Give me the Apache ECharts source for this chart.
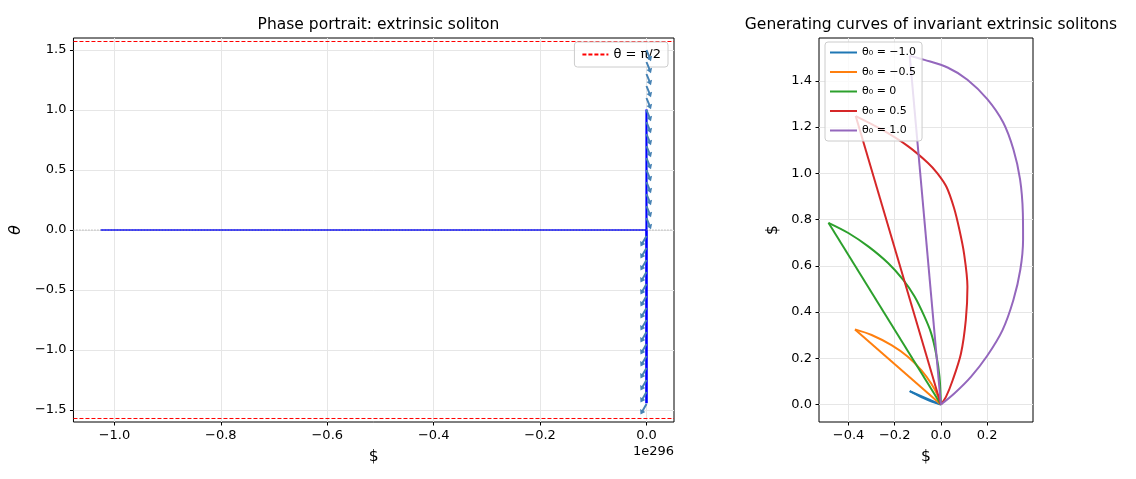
<!DOCTYPE html>
<html>
<head>
<meta charset="utf-8">
<script src="https://cdn.jsdelivr.net/npm/echarts@6/dist/echarts.min.js"></script>
<style>
  html, body { margin: 0; padding: 0; background: #fff; }
  .demo { width: 1136px; height: 479px; }
</style>
</head>
<body>
<div class="demo"></div>
<script>
// axis limits (left x in units of 1e296)
const leftXRange = [-1.077, 0.0517]
const leftYRange = [-1.6, 1.6]
const rightXRange = [-0.528, 0.399]
const rightYRange = [-0.0755, 1.5855]

// tick labels
const leftXTicks = [-1.0, -0.8, -0.6, -0.4, -0.2, 0.0]
const leftYTicks = [-1.5, -1.0, -0.5, 0.0, 0.5, 1.0, 1.5]
const rightXTicks = [-0.4, -0.2, 0.0, 0.2]
const rightYTicks = [0.0, 0.2, 0.4, 0.6, 0.8, 1.0, 1.2, 1.4]

// phase portrait trajectories [x (1e296), theta]
const trajFlat = [[-1.026, 0], [0, 0]]
const trajUp = [[0, 1.005], [0, 0]]
const trajDown = [[0, 0], [0, -1.444]]
const halfPi = Math.PI / 2

// quiver arrows at x = 0: theta level and tilt in degrees
const quiverTheta = [1.5, 1.4, 1.3, 1.2, 1.1, 1.0, 0.9, 0.8, 0.7, 0.6, 0.5, 0.4, 0.3, 0.2, 0.1,
  -0.05, -0.15, -0.25, -0.35, -0.45, -0.55, -0.65, -0.75, -0.85, -0.95, -1.05, -1.15, -1.25, -1.35, -1.45]
const quiverTilt = [22, 22, 22, 22, 22, 22, 22, 22, 22, 22, 22, 22, 22, 22, 22,
  -30, -30, -30, -30, -30, -30, -30, -30, -30, -30, -30, -30, -30, -30, -30]

// generating curves: curved arc from the origin up to the tip, then a chord back
const arcM10 = [[0, 0], [-0.04, 0.013], [-0.08, 0.03], [-0.11, 0.045], [-0.135, 0.058]]
const arcM05 = [[0, 0], [-0.014, 0.040], [-0.042, 0.091], [-0.085, 0.149], [-0.143, 0.207],
  [-0.214, 0.257], [-0.300, 0.301], [-0.372, 0.325]]
const arc00 = [[0, 0], [-0.006, 0.120], [-0.021, 0.221], [-0.042, 0.308], [-0.071, 0.380],
  [-0.114, 0.467], [-0.164, 0.540], [-0.229, 0.612], [-0.315, 0.684], [-0.401, 0.742], [-0.487, 0.786]]
const arcP05 = [[0, 0], [0.022, 0.033], [0.051, 0.105], [0.087, 0.221], [0.108, 0.366], [0.115, 0.510],
  [0.100, 0.655], [0.080, 0.757], [0.057, 0.850], [0.025, 0.940], [-0.015, 1.000], [-0.057, 1.046],
  [-0.143, 1.118], [-0.257, 1.190], [-0.369, 1.248]]
const arcP10 = [[0, 0], [0.058, 0.048], [0.130, 0.120], [0.200, 0.210], [0.267, 0.322], [0.314, 0.452],
  [0.344, 0.583], [0.356, 0.713], [0.355, 0.830], [0.343, 0.974], [0.314, 1.104], [0.270, 1.220],
  [0.201, 1.321], [0.115, 1.405], [0.029, 1.458], [-0.071, 1.491], [-0.135, 1.509]]
const curveNames = ['\u03b8\u2080 = \u22121.0', '\u03b8\u2080 = \u22120.5', '\u03b8\u2080 = 0', '\u03b8\u2080 = 0.5', '\u03b8\u2080 = 1.0']
const curveColors = ['#1f77b4', '#ff7f0e', '#2ca02c', '#d62728', '#9467bd']

;(function(){
  const chartinstance = echarts.init(document.querySelector('.demo'))
  const font = 'DejaVu Sans'
  const fmt = v => (v < -1e-9 ? '\u2212' : '') + Math.abs(v).toFixed(1)

  const makeAxis = (range, ticks, grid, extra) => Object.assign({
    type: 'value',
    gridIndex: grid,
    min: range[0],
    max: range[1],
    axisLine: { show: false, onZero: false },
    axisTick: { show: true, length: 3.5, customValues: ticks, lineStyle: { color: '#000', width: 1 } },
    axisLabel: { customValues: ticks, formatter: fmt, color: '#000', fontFamily: font, fontSize: 13, margin: 7 },
    splitLine: { show: true, lineStyle: { color: '#e6e6e6', width: 1 } },
    nameLocation: 'middle',
    nameTextStyle: { color: '#000', fontFamily: font, fontSize: 15.5 }
  }, extra)

  const curves = []
  ;[arcM10, arcM05, arc00, arcP05, arcP10].forEach((arc, i) => {
    const base = {
      name: curveNames[i], type: 'line', xAxisIndex: 1, yAxisIndex: 1,
      symbol: 'none', color: curveColors[i],
      lineStyle: { width: 2, color: curveColors[i] }, z: 3
    }
    curves.push(Object.assign({}, base, { data: arc, smooth: 0.3 }))
    curves.push(Object.assign({}, base, { data: [arc[arc.length - 1], arc[0]] }))
  })

  const legendBase = {
    backgroundColor: 'rgba(255,255,255,0.8)',
    borderColor: '#cccccc', borderWidth: 1, borderRadius: 3,
    itemStyle: { opacity: 0 }
  }

  const option = {
    animation: false,
    title: [
      { text: 'Phase portrait: extrinsic soliton', left: 373.5, top: 12, textAlign: 'center',
        textStyle: { fontFamily: font, fontSize: 15.5, fontWeight: 'normal', color: '#000' } },
      { text: 'Generating curves of invariant extrinsic solitons', left: 926, top: 12, textAlign: 'center',
        textStyle: { fontFamily: font, fontSize: 15.5, fontWeight: 'normal', color: '#000' } }
    ],
    grid: [
      { left: 73, top: 38, right: 462, bottom: 57, show: true, borderColor: '#000', borderWidth: 1, backgroundColor: 'transparent' },
      { left: 819, top: 38, right: 103, bottom: 57, show: true, borderColor: '#000', borderWidth: 1, backgroundColor: 'transparent' }
    ],
    legend: [
      Object.assign({}, legendBase, {
        data: ['\u03b8 = \u03c0/2'],
        right: 468, top: 42,
        itemWidth: 26, itemHeight: 10,
        padding: [6, 7, 6, 7],
        textStyle: { fontFamily: font, fontSize: 13, color: '#000' }
      }),
      Object.assign({}, legendBase, {
        data: curveNames,
        orient: 'vertical',
        left: 825, top: 42,
        itemWidth: 27, itemHeight: 10, itemGap: 8.5,
        padding: [5, 6, 5, 4],
        textStyle: { fontFamily: font, fontSize: 11, color: '#000' }
      })
    ],
    xAxis: [
      makeAxis(leftXRange, leftXTicks, 0, { name: '$', nameGap: 27 }),
      makeAxis(rightXRange, rightXTicks, 1, { name: '$', nameGap: 27 })
    ],
    yAxis: [
      makeAxis(leftYRange, leftYTicks, 0, { name: '\u03b8', nameGap: 47,
        nameTextStyle: { color: '#000', fontFamily: font, fontSize: 15.5, fontStyle: 'italic' } }),
      makeAxis(rightYRange, rightYTicks, 1, { name: '$', nameGap: 38 })
    ],
    graphic: [
      { type: 'text', right: 1136 - 674, top: 445,
        style: { text: '1e296', fontFamily: font, fontSize: 13, fill: '#000' } }
    ],
    series: [
      {
        name: '\u03b8 = \u03c0/2', type: 'line', xAxisIndex: 0, yAxisIndex: 0,
        data: [[leftXRange[0], halfPi], [leftXRange[1], halfPi]],
        symbol: 'none', color: '#ff0000',
        lineStyle: { color: '#ff0000', width: 1, type: [4, 2] }, z: 3
      },
      {
        name: '\u03b8 = \u03c0/2', type: 'line', xAxisIndex: 0, yAxisIndex: 0,
        data: [[leftXRange[0], -halfPi], [leftXRange[1], -halfPi]],
        symbol: 'none', color: '#ff0000',
        lineStyle: { color: '#ff0000', width: 1, type: [4, 2] }, z: 3
      },
      {
        name: 'traj', type: 'line', xAxisIndex: 0, yAxisIndex: 0, data: trajFlat,
        symbol: 'none', lineStyle: { color: '#0000ff', width: 1.6 }, z: 3
      },
      {
        name: 'traj2', type: 'line', xAxisIndex: 0, yAxisIndex: 0, data: trajUp,
        symbol: 'none', lineStyle: { color: '#0000ff', width: 2.2 }, z: 3
      },
      {
        name: 'traj3', type: 'line', xAxisIndex: 0, yAxisIndex: 0, data: trajDown,
        symbol: 'none', lineStyle: { color: '#0000ff', width: 2.6 }, z: 3
      },
      {
        name: 'zero', type: 'line', xAxisIndex: 0, yAxisIndex: 0,
        data: [[leftXRange[0], 0], [leftXRange[1], 0]],
        symbol: 'none', lineStyle: { color: '#999999', width: 1, type: [1, 2] }, z: 4
      },
      {
        name: 'quiver', type: 'custom', xAxisIndex: 0, yAxisIndex: 0,
        data: quiverTheta.map((t, i) => [0, t, quiverTilt[i]]),
        renderItem: (params, api) => {
          const p = api.coord([api.value(0), api.value(1)])
          const a = api.value(2) * Math.PI / 180
          const L = 12, hw = 1, hl = 4.5, hh = 3
          const local = [[-hw, 0], [hw, 0], [hw, L - hl], [hh, L - hl], [0, L], [-hh, L - hl], [-hw, L - hl]]
          const pts = local.map(([u, v]) => [
            p[0] + u * Math.cos(a) + v * Math.sin(a),
            p[1] - u * Math.sin(a) + v * Math.cos(a)
          ])
          return { type: 'polygon', shape: { points: pts }, style: { fill: '#4682b4' } }
        },
        z: 5
      }
    ].concat(curves)
  }
  option && chartinstance.setOption(option)
  window.addEventListener('resize',()=>{
    chartinstance.resize();
  })
})();
</script>
</body>
</html>
